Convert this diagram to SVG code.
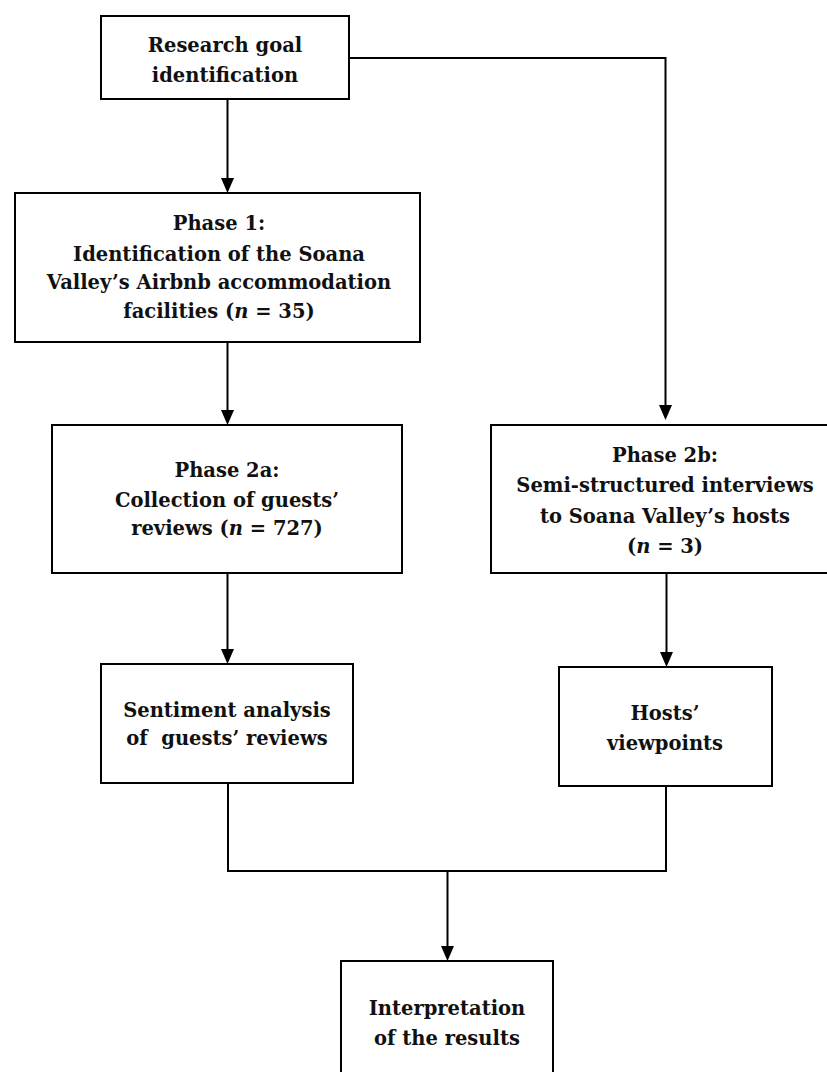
<svg xmlns="http://www.w3.org/2000/svg" width="827" height="1072" viewBox="0 0 827 1072">
<style>
.box{fill:#fff;stroke:#000;stroke-width:2}
.ln{fill:none;stroke:#000;stroke-width:2}
.ah{fill:#000}
text{font-family:"DejaVu Serif","Liberation Serif",serif;font-weight:bold;font-size:19.5px;text-anchor:middle;fill:#111}
.it{font-style:italic}
</style>
<rect width="827" height="1072" fill="#fff"/>
<g id="connectors">
<path class="ln" d="M349,58 H665.5 V406"/>
<line class="ln" x1="227.5" y1="99" x2="227.5" y2="180"/>
<line class="ln" x1="227.5" y1="342" x2="227.5" y2="412"/>
<line class="ln" x1="227.5" y1="573" x2="227.5" y2="651"/>
<line class="ln" x1="666.5" y1="573" x2="666.5" y2="654"/>
<path class="ln" d="M228,783 V871 H666 V786"/>
<line class="ln" x1="447.5" y1="871" x2="447.5" y2="948"/>
<path class="ah" d="M659,405 L672,405 L665.5,420 Z"/>
<path class="ah" d="M221,178 L234,178 L227.5,193 Z"/>
<path class="ah" d="M221,410 L234,410 L227.5,425 Z"/>
<path class="ah" d="M221,649 L234,649 L227.5,664 Z"/>
<path class="ah" d="M660,652 L673,652 L666.5,667 Z"/>
<path class="ah" d="M441,946 L454,946 L447.5,961 Z"/>
</g>
<g id="n-research">
<rect class="box" x="101" y="16" width="248" height="83"/>
<text x="225" y="52">Research goal</text>
<text x="225" y="82">identification</text>
</g>
<g id="n-phase1">
<rect class="box" x="15" y="193" width="405" height="149"/>
<text x="219" y="230">Phase 1:</text>
<text x="219" y="261">Identification of the Soana</text>
<text x="219" y="289">Valley’s Airbnb accommodation</text>
<text x="219" y="318">facilities (<tspan class="it">n</tspan> = 35)</text>
</g>
<g id="n-phase2a">
<rect class="box" x="52" y="425" width="350" height="148"/>
<text x="227" y="477">Phase 2a:</text>
<text x="227" y="507">Collection of guests’</text>
<text x="227" y="535">reviews (<tspan class="it">n</tspan> = 727)</text>
</g>
<g id="n-phase2b">
<rect class="box" x="491" y="425" width="350" height="148"/>
<text x="665" y="462">Phase 2b:</text>
<text x="665" y="492">Semi-structured interviews</text>
<text x="665" y="523">to Soana Valley’s hosts</text>
<text x="665" y="553">(<tspan class="it">n</tspan> = 3)</text>
</g>
<g id="n-sentiment">
<rect class="box" x="101" y="664" width="252" height="119"/>
<text x="227" y="717">Sentiment analysis</text>
<text x="227" y="745" xml:space="preserve">of  guests’ reviews</text>
</g>
<g id="n-hosts">
<rect class="box" x="559" y="667" width="213" height="119"/>
<text x="665" y="720">Hosts’</text>
<text x="665" y="750">viewpoints</text>
</g>
<g id="n-interp">
<rect class="box" x="341" y="961" width="212" height="130"/>
<text x="447" y="1015">Interpretation</text>
<text x="447" y="1045">of the results</text>
</g>
</svg>
